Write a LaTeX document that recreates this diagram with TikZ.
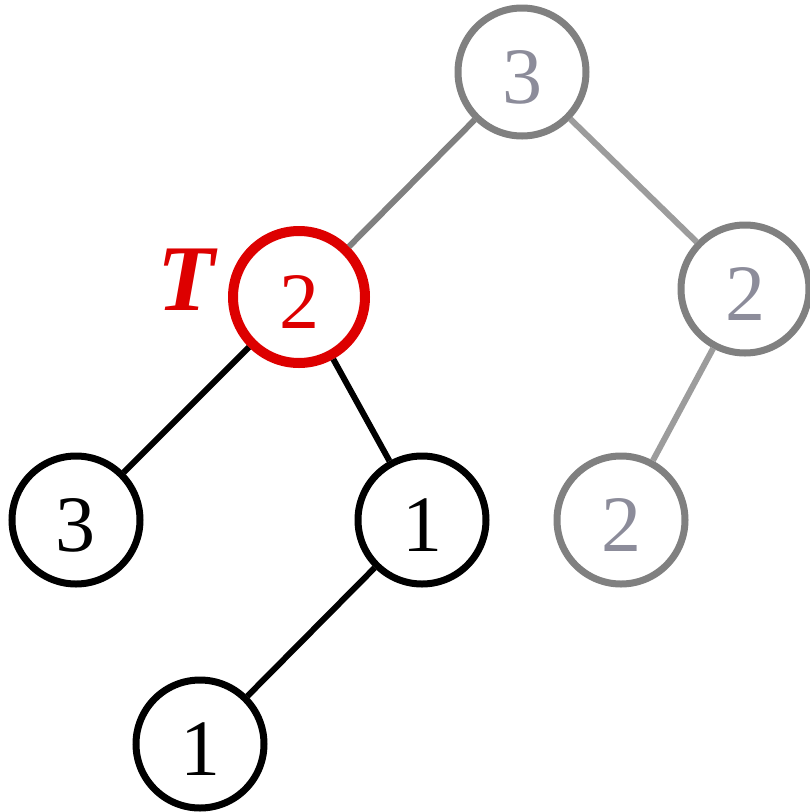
\documentclass[tikz,border=0pt]{standalone}
\usepackage{fontspec}
\setmainfont{Liberation Serif}
\definecolor{ring}{HTML}{808080}
\definecolor{gtext}{HTML}{8C8C9A}
\definecolor{gedge}{HTML}{9C9C9C}
\definecolor{tred}{HTML}{DD0000}
\tikzset{
  x=1pt,y=-1pt,
  tnode/.style={circle,draw=black,line width=7pt,minimum size=128pt,inner sep=0pt,text height=63pt,text depth=0pt,font=\fontsize{80}{84}\selectfont,text=black},
  gnode/.style={tnode,draw=ring,text=gtext},
  rnode/.style={tnode,draw=tred,line width=10pt,minimum size=132pt,text=tred},
  bedge/.style={draw=black,line width=6pt},
  gedgeA/.style={draw=ring,line width=6pt},
  gedgeB/.style={draw=gedge,line width=6pt},
}
\begin{document}
\begin{tikzpicture}
\useasboundingbox (0,0) rectangle (810,812);
\node[gnode] (r) at (522,72) {3};
\node[rnode] (t) at (299,297) {2};
\node[gnode] (rr) at (745,289) {2};
\node[tnode] (a) at (76,520) {3};
\node[tnode] (b) at (422,520) {1};
\node[gnode] (c) at (621,520) {2};
\node[tnode] (d) at (200,744) {1};
\node[text=tred,font=\fontsize{94}{96}\selectfont\bfseries\itshape] (lab) at (186,280) {T};
\draw[gedgeA] (r) -- (t);
\draw[gedgeB] (r) -- (rr);
\draw[gedgeB] (rr) -- (c);
\draw[bedge] (t) -- (a);
\draw[bedge] (t) -- (b);
\draw[bedge] (b) -- (d);
\end{tikzpicture}
\end{document}
